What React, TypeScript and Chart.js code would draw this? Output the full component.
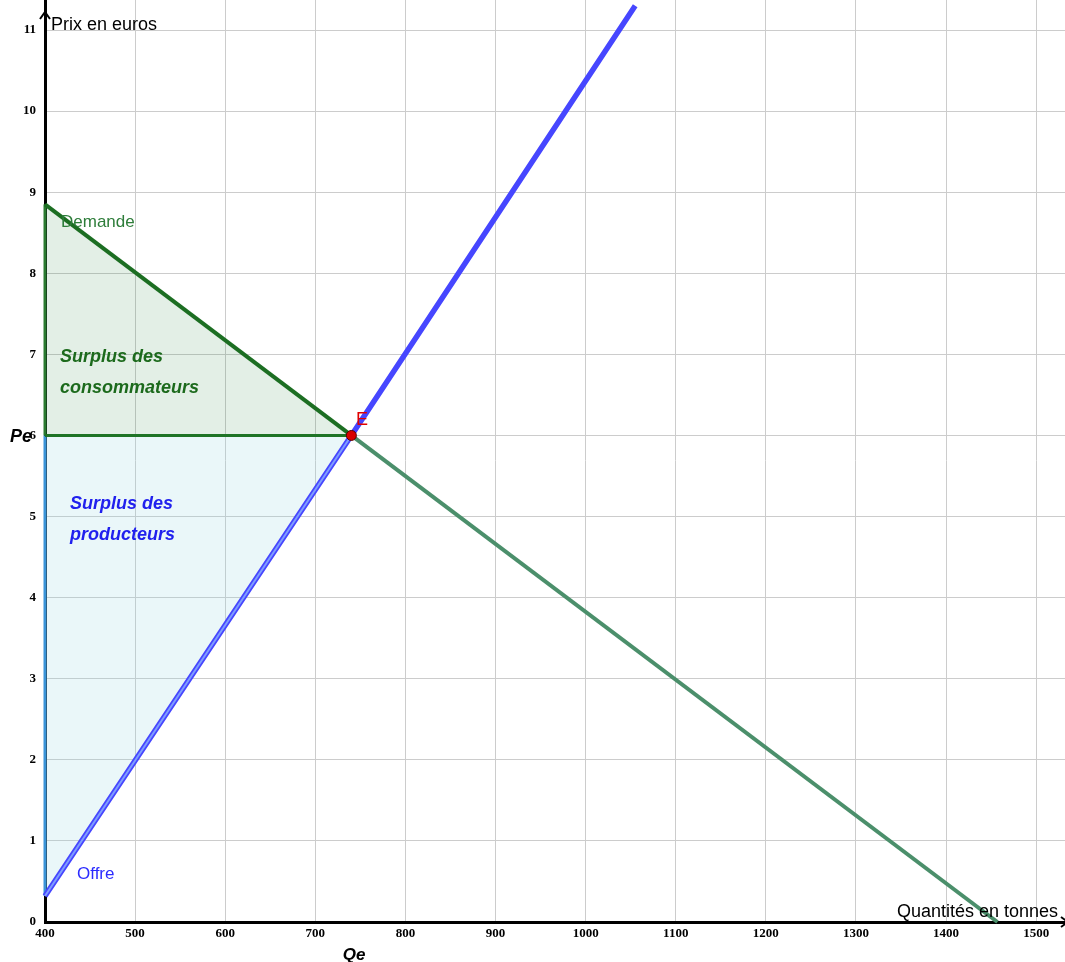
import React, { useEffect, useRef } from "react";
import { Chart, registerables } from "chart.js";

Chart.register(...registerables);

// Axis ranges and ticks
const xMin = 400;
const xMax = 1532;
const yMin = 0;
const yMax = 11.37;
const xStep = 100;
const yStep = 1;

// Demand curve (quantity, price)
const demandQ = [400, 740, 1457];
const demandP = [8.85, 6, 0];

// Supply curve (quantity, price)
const supplyQ = [400, 740, 1055];
const supplyP = [0.32, 6, 11.3];

// Equilibrium
const eqQ = 740;
const eqP = 6;

const pts = (qs: number[], ps: number[]) => qs.map((q, i) => ({ x: q, y: ps[i] }));

const SANS = "'Liberation Sans', Arial, sans-serif";

const annotations = {
  id: "annotations",
  afterDraw(chart: any) {
    const ctx = chart.ctx;
    const area = chart.chartArea;
    ctx.save();
    // axis arrows
    ctx.strokeStyle = "#000";
    ctx.lineWidth = 2;
    ctx.beginPath();
    ctx.moveTo(area.left, area.top + 20);
    ctx.lineTo(area.left, area.top + 12);
    ctx.moveTo(area.left - 5, area.top + 19);
    ctx.lineTo(area.left, area.top + 12);
    ctx.lineTo(area.left + 5, area.top + 19);
    ctx.stroke();
    ctx.beginPath();
    ctx.moveTo(area.right - 4, area.bottom - 5);
    ctx.lineTo(area.right + 3, area.bottom);
    ctx.lineTo(area.right - 4, area.bottom + 5);
    ctx.stroke();

    const txt = (s: string, x: number, y: number, font: string, color: string, align: CanvasTextAlign = "left") => {
      ctx.font = font;
      ctx.fillStyle = color;
      ctx.textAlign = align;
      ctx.textBaseline = "middle";
      ctx.fillText(s, x, y);
    };
    txt("Prix en euros", 51, 25, `18px ${SANS}`, "#000");
    txt("Quantités en tonnes", 1058, 912, `18px ${SANS}`, "#000", "right");
    txt("Pe", 10, 437, `italic bold 18px ${SANS}`, "#000");
    txt("Qe", 354, 955, `italic bold 17px ${SANS}`, "#000", "center");
    txt("E", 356, 420, `18px ${SANS}`, "#e00000");
    txt("Demande", 61, 222, `17px ${SANS}`, "#2e7d3a");
    txt("Surplus des", 60, 357, `italic bold 18px ${SANS}`, "#1c6a1c");
    txt("consommateurs", 60, 388, `italic bold 18px ${SANS}`, "#1c6a1c");
    txt("Surplus des", 70, 504, `italic bold 18px ${SANS}`, "#2020ee");
    txt("producteurs", 70, 535, `italic bold 18px ${SANS}`, "#2020ee");
    txt("Offre", 77, 874, `17px ${SANS}`, "#2b2bff");
    ctx.restore();
  },
};

const noPad = (s: any) => {
  s.paddingTop = 0;
  s.paddingBottom = 0;
  s.paddingLeft = 0;
  s.paddingRight = 0;
};

export default function App() {
  const ref = useRef<HTMLCanvasElement | null>(null);

  useEffect(() => {
    if (!ref.current) return;
    const chart = new Chart(ref.current, {
      type: "line",
      data: {
        datasets: [
          {
            // equilibrium point
            data: [{ x: eqQ, y: eqP }],
            showLine: false,
            pointRadius: 5,
            pointBackgroundColor: "#d80000",
            pointBorderColor: "#5a0000",
            pointBorderWidth: 1,
            order: 0,
          },
          {
            // producer surplus hypotenuse highlight
            data: pts(supplyQ.slice(0, 2), supplyP.slice(0, 2)),
            borderColor: "#7f9eff",
            borderWidth: 2,
            pointRadius: 0,
            order: 1,
          },
          {
            // supply line
            data: pts(supplyQ, supplyP),
            borderColor: "#4646ff",
            borderWidth: 5.5,
            pointRadius: 0,
            order: 2,
          },
          {
            // demand line, up to equilibrium
            data: pts(demandQ.slice(0, 2), demandP.slice(0, 2)),
            borderColor: "#1c6e22",
            borderWidth: 4,
            pointRadius: 0,
            order: 3,
          },
          {
            // demand line, beyond equilibrium
            data: pts(demandQ.slice(1), demandP.slice(1)),
            borderColor: "#4b8f6b",
            borderWidth: 4,
            pointRadius: 0,
            order: 4,
          },
          {
            // Pe horizontal edge
            data: [{ x: xMin, y: eqP }, { x: eqQ, y: eqP }],
            borderColor: "#1f7426",
            borderWidth: 3,
            pointRadius: 0,
            order: 5,
          },
          {
            // consumer surplus left edge
            data: [{ x: xMin, y: eqP }, { x: xMin, y: demandP[0] }],
            borderColor: "#2a7a30",
            borderWidth: 3,
            pointRadius: 0,
            order: 6,
          },
          {
            // producer surplus left edge
            data: [{ x: xMin, y: supplyP[0] }, { x: xMin, y: eqP }],
            borderColor: "#3a94d8",
            borderWidth: 3,
            pointRadius: 0,
            order: 7,
          },
          {
            // consumer surplus fill
            data: pts(demandQ.slice(0, 2), demandP.slice(0, 2)),
            borderWidth: 0,
            borderColor: "rgba(0,0,0,0)",
            backgroundColor: "rgba(40,130,60,0.13)",
            fill: { value: eqP },
            pointRadius: 0,
            order: 10,
          },
          {
            // producer surplus fill
            data: pts(supplyQ.slice(0, 2), supplyP.slice(0, 2)),
            borderWidth: 0,
            borderColor: "rgba(0,0,0,0)",
            backgroundColor: "rgba(150,215,225,0.2)",
            fill: { value: eqP },
            pointRadius: 0,
            order: 11,
          },
        ] as any,
      },
      options: {
        animation: false,
        responsive: false,
        maintainAspectRatio: false,
        layout: { padding: 0, autoPadding: false },
        clip: false,
        plugins: {
          legend: { display: false },
          tooltip: { enabled: false },
        },
        elements: { line: { tension: 0 } },
        scales: {
          x: {
            type: "linear",
            min: xMin,
            max: xMax,
            ticks: {
              stepSize: xStep,
              includeBounds: false,
              autoSkip: false,
              maxRotation: 0,
              color: "#000",
              padding: 4,
              callback: (v: any) => String(v),
              font: { family: "'Liberation Serif', serif", size: 13, weight: "bold" },
            },
            grid: { color: "#cccccc", lineWidth: 1, drawTicks: false },
            border: { color: "#000", width: 3 },
            afterFit: (s: any) => {
              s.height = 40;
              noPad(s);
            },
          },
          y: {
            type: "linear",
            min: yMin,
            max: yMax,
            ticks: {
              stepSize: yStep,
              includeBounds: false,
              autoSkip: false,
              color: "#000",
              padding: 9,
              callback: (v: any) => String(v),
              font: { family: "'Liberation Serif', serif", size: 13, weight: "bold" },
            },
            grid: { color: "#cccccc", lineWidth: 1, drawTicks: false },
            border: { color: "#000", width: 3 },
            afterFit: (s: any) => {
              s.width = 45;
              noPad(s);
            },
          },
        },
      } as any,
      plugins: [annotations],
    });
    return () => chart.destroy();
  }, []);

  return (
    <div style={{ position: "fixed", left: 0, top: 0, width: 1065, height: 962, background: "#fff" }}>
      <canvas ref={ref} width={1065} height={962} style={{ width: 1065, height: 962, display: "block" }} />
    </div>
  );
}
